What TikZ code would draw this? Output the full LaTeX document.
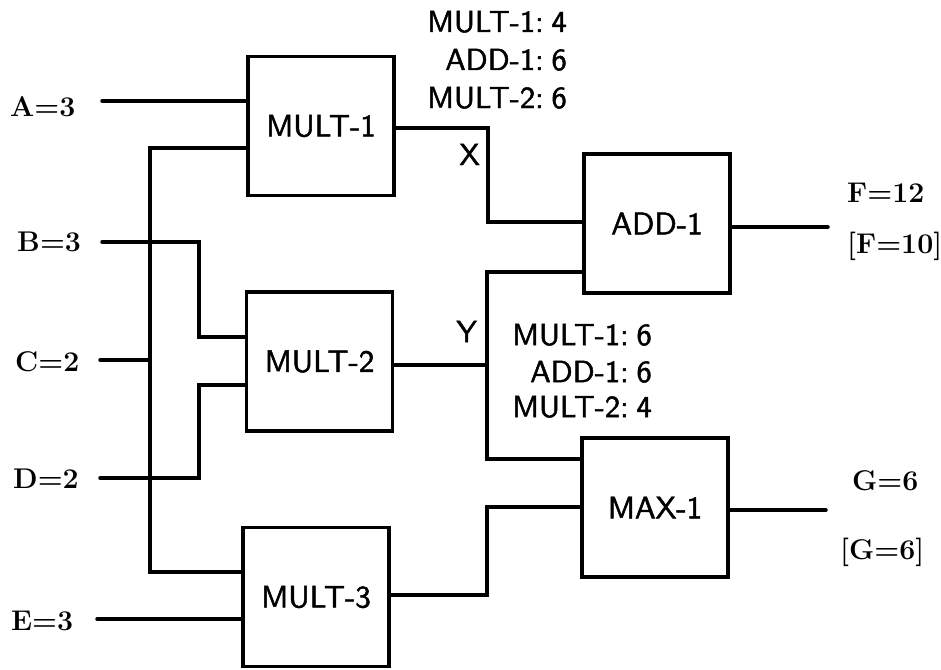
\documentclass[tikz,border=0pt]{standalone}
\usepackage{fontspec}
\newfontfamily\gatefont[FakeBold=1.6]{lmsans10-regular.otf}
\newcommand{\annsp}{\hspace{0.26em}}
\begin{document}
\begin{tikzpicture}[x=1pt,y=-1pt]
\tikzset{
 wire/.style={line width=3.5pt, line cap=round},
 gate/.style={draw, line width=3.5pt, minimum width=146pt, minimum height=139pt, inner sep=0pt, font=\fontsize{31}{37}\selectfont\gatefont},
 inlbl/.style={anchor=base west, inner sep=0pt, font=\fontsize{28.5}{34}\selectfont\bfseries},
 ann/.style={anchor=base east, inner sep=0pt, font=\fontsize{30.5}{36}\selectfont\gatefont},
}
\useasboundingbox (0,0) rectangle (941,669);

% gates
\node[gate] (m1) at (321,126) {MULT-1};
\node[gate] (m2) at (319.5,361.5) {MULT-2};
\node[gate] (m3) at (316,597) {MULT-3};
\node[gate] (add) at (657,223.5) {ADD-1};
\node[gate] (max) at (655,507.5) {MAX-1};

% input labels
\node[inlbl] (la) at (10,116) {A=3};
\node[inlbl] (lb) at (17,251) {B=3};
\node[inlbl] (lc) at (15,371) {C=2};
\node[inlbl] (ld) at (13,488) {D=2};
\node[inlbl] (le) at (11,630) {E=3};

% output labels
\node[inlbl] (lf) at (847,202) {F=12};
\node[inlbl] (lf2) at (847,253) {[F=10]};
\node[inlbl] (lg) at (852,490) {G=6};
\node[inlbl] (lg2) at (840,559) {[G=6]};

% wire coordinates
\coordinate (ca) at (102,101);
\coordinate (cj) at (150,148);
\coordinate (cbot) at (150,572);
\coordinate (cc) at (100,360);
\coordinate (cb) at (102,242);
\coordinate (bt) at (199,242);
\coordinate (bb) at (199,337);
\coordinate (cd) at (100,478);
\coordinate (dt) at (199,478);
\coordinate (db) at (199,385);
\coordinate (ce) at (97,619);
\coordinate (x1) at (488,128);
\coordinate (x2) at (488,222);
\coordinate (y1) at (487,272);
\coordinate (y2) at (487,459);
\coordinate (ym) at (487,365);
\coordinate (z1) at (487,595);
\coordinate (z2) at (487,507);
\coordinate (fo) at (828,227);
\coordinate (go) at (826,510);

% input wires
\draw[wire] (ca) -- (ca -| m1.west);
\draw[wire] (m1.west |- cj) -- (cj) -- (cbot) -- (m3.west |- cbot);
\draw[wire] (cc) -- (cc -| cj);
\draw[wire] (cb) -- (bt) -- (bb) -- (bb -| m2.west);
\draw[wire] (cd) -- (dt) -- (db) -- (db -| m2.west);
\draw[wire] (ce) -- (ce -| m3.west);

% internal wires
\draw[wire] (m1.east |- x1) -- (x1) -- (x2) -- (x2 -| add.west);
\draw[wire] (add.west |- y1) -- (y1) -- (y2) -- (y2 -| max.west);
\draw[wire] (m2.east |- ym) -- (ym);
\draw[wire] (m3.east |- z1) -- (z1) -- (z2) -- (z2 -| max.west);

% output wires
\draw[wire] (add.east |- fo) -- (fo);
\draw[wire] (max.east |- go) -- (go);

% annotations
\node[ann] (t1a) at (567,32) {MULT-1:\annsp4};
\node[ann] (t1b) at (567,70) {ADD-1:\annsp6};
\node[ann] (t1c) at (567,108) {MULT-2:\annsp6};
\node[ann] (t2a) at (652,345) {MULT-1:\annsp6};
\node[ann] (t2b) at (652,382) {ADD-1:\annsp6};
\node[ann] (t2c) at (652,417) {MULT-2:\annsp4};
\node[ann] (lx) at (480,165) {X};
\node[ann] (ly) at (477,342) {Y};
\end{tikzpicture}
\end{document}
